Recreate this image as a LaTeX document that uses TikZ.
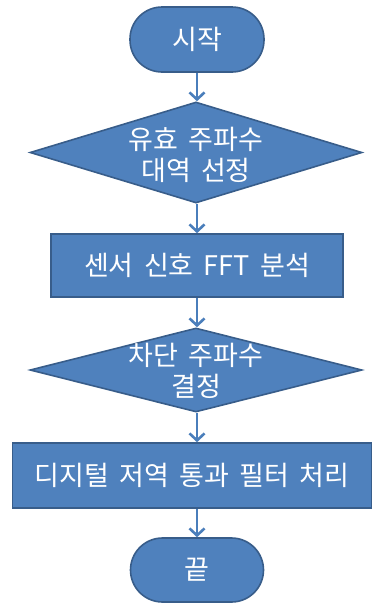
\documentclass[tikz,border=0pt]{standalone}
\usepackage{fontspec}
\setmainfont[WordSpace=1.7]{Noto Sans CJK KR}
\usetikzlibrary{shapes.geometric,arrows.meta}
\definecolor{boxfill}{HTML}{4F81BD}
\definecolor{boxline}{HTML}{385D8A}
\definecolor{arrowc}{HTML}{4A7EBB}
\tikzset{
  base/.style={fill=boxfill,draw=boxline,line width=1.6pt,text=white,inner sep=0pt,
    font=\fontsize{27}{31}\selectfont,align=center},
  txt/.style={text=white,inner sep=0pt,font=\fontsize{27}{31}\selectfont,align=center},
  term/.style={base,rectangle,rounded corners=#1},
  proc/.style={base,rectangle},
  dec/.style={base,diamond},
  conn/.style={draw=arrowc,line width=2.6pt,-{Straight Barb[length=7pt,width=15pt,line width=2.6pt]}}
}
\begin{document}
\begin{tikzpicture}[x=1pt,y=-1pt]
\useasboundingbox (0,0) rectangle (373,603);
\node[term=32pt,minimum width=134pt,minimum height=65pt] (s) at (197,39.5) {시작};
\node[dec,minimum width=332pt,minimum height=101pt] (d1) at (196,152.5) {};
\node[txt] (d1t) at (196,155) {유효 주파수\\대역 선정};
\node[proc,minimum width=292pt,minimum height=63pt] (r1) at (197,265.5) {센서 신호 FFT 분석};
\node[dec,minimum width=332pt,minimum height=84pt] (d2) at (196,370) {};
\node[txt] (d2t) at (196,371) {차단 주파수\\결정};
\node[proc,minimum width=359pt,minimum height=65pt] (r2) at (192,475.5) {디지털 저역 통과 필터 처리};
\node[term=32pt,minimum width=133pt,minimum height=64pt] (e) at (197,570) {끝};
\coordinate (ax) at (197,0);
\draw[conn] (ax |- s.south) -- (ax |- d1.north);
\draw[conn] (ax |- d1.south) -- (ax |- r1.north);
\draw[conn] (ax |- r1.south) -- (ax |- d2.north);
\draw[conn] (ax |- d2.south) -- (ax |- r2.north);
\draw[conn] (ax |- r2.south) -- (ax |- e.north);
\end{tikzpicture}
\end{document}
